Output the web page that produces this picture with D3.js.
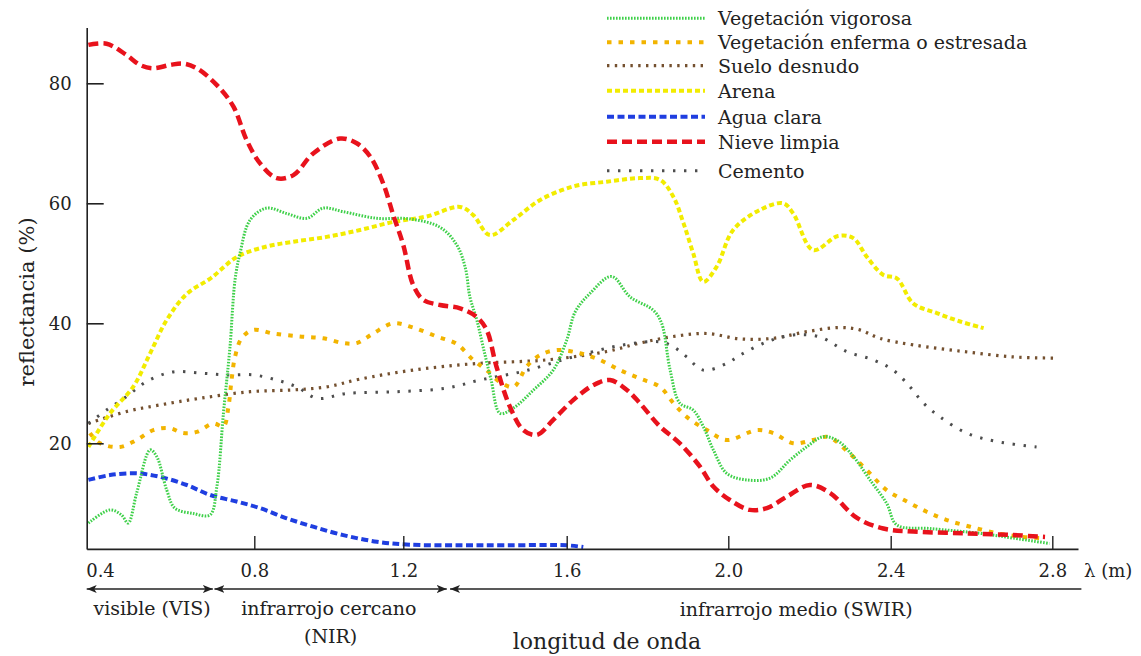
<!DOCTYPE html>
<html><head><meta charset="utf-8">
<script src="https://cdn.jsdelivr.net/npm/d3@7"></script>
<style>
html,body{margin:0;padding:0;background:#fff;}
svg{display:block;font-family:"DejaVu Serif",serif;}
</style></head>
<body><svg id="chart" width="1141" height="656"></svg>
<script>
// ---- data (wavelength in µm, reflectance in %) ----
const seriesNames = ["Vegetación vigorosa","Vegetación enferma o estresada","Suelo desnudo","Arena","Agua clara","Nieve limpia","Cemento"];
const xTicks = [0.4,0.8,1.2,1.6,2.0,2.4,2.8];
const yTicks = [20,40,60,80];

const vegVigorosa = [[0.370,6.7],[0.426,8.9],[0.456,8.05],[0.473,6.7],[0.495,11.7],[0.530,18.9],[0.547,17.8],[0.573,12.2],[0.594,9.2],[0.642,8.3],[0.685,8.05],[0.703,12.8],[0.720,25],[0.737,36.1],[0.750,47.2],[0.763,51.7],[0.789,57.2],[0.833,59.2],[0.887,58.3],[0.941,57.5],[0.985,59.2],[1.039,58.6],[1.129,57.5],[1.216,57.4],[1.290,56],[1.331,53.05],[1.352,49.2],[1.363,44.4],[1.380,40.55],[1.396,35.9],[1.415,30.55],[1.437,25],[1.470,25.9],[1.519,28.9],[1.567,32.2],[1.600,37.2],[1.621,41.9],[1.658,45],[1.711,47.8],[1.757,44.4],[1.814,42.2],[1.835,40],[1.856,32.2],[1.880,26.7],[1.913,25.55],[1.938,22.8],[1.963,18.9],[1.996,15],[2.045,13.9],[2.103,14.2],[2.152,17.2],[2.193,19.4],[2.234,21.1],[2.270,20.4],[2.308,17.8],[2.349,13.9],[2.390,10],[2.415,6.4],[2.497,5.8],[2.621,5],[2.703,4.2],[2.793,3.3]];

const vegEnferma = [[0.374,21.7],[0.400,20],[0.452,19.4],[0.495,20.55],[0.538,22.2],[0.581,22.5],[0.616,21.7],[0.651,21.9],[0.694,23.3],[0.720,22.8],[0.733,26.1],[0.741,30.55],[0.750,34.4],[0.767,37.5],[0.797,38.9],[0.851,38.3],[0.922,37.8],[0.985,37.5],[1.039,36.7],[1.075,36.7],[1.119,38.3],[1.173,40],[1.224,39.3],[1.282,37.8],[1.331,36.55],[1.371,33.9],[1.404,32.2],[1.437,30.2],[1.470,29.4],[1.502,32.8],[1.535,34.7],[1.576,35.55],[1.633,35],[1.682,33.9],[1.732,32.2],[1.781,30.8],[1.831,29.4],[1.864,26.7],[1.897,24.4],[1.947,22.2],[1.996,20.55],[2.070,22.2],[2.111,21.7],[2.160,20],[2.209,20.55],[2.246,21.05],[2.295,18.55],[2.341,15.55],[2.390,12.2],[2.440,10.3],[2.489,8.6],[2.539,7.2],[2.597,6.1],[2.663,5],[2.728,4.4],[2.778,4.2]];

const sueloDesnudo = [[0.370,23.3],[0.469,25.3],[0.556,26.4],[0.659,27.5],[0.789,28.6],[0.905,28.9],[0.994,29.4],[1.084,30.7],[1.224,32.2],[1.380,33.3],[1.551,33.9],[1.699,35.3],[1.781,36.7],[1.864,37.8],[1.947,38.3],[2.029,37.4],[2.111,37.5],[2.193,38.6],[2.275,39.3],[2.324,38.9],[2.373,37.5],[2.456,36.4],[2.580,35.3],[2.703,34.4],[2.802,34.2]];

const arena = [[0.370,19.4],[0.426,25],[0.486,29.4],[0.530,35],[0.573,40.55],[0.625,44.9],[0.688,47.55],[0.756,51.1],[0.833,52.8],[0.905,53.6],[0.994,54.4],[1.084,55.55],[1.173,56.9],[1.257,57.8],[1.339,59.4],[1.371,58.05],[1.412,54.7],[1.469,57.2],[1.535,60.55],[1.616,62.8],[1.699,63.6],[1.781,64.2],[1.831,63.9],[1.864,61.1],[1.889,56.7],[1.913,51.7],[1.938,46.9],[1.971,49.4],[2.012,55.55],[2.078,58.9],[2.135,60],[2.160,58.3],[2.209,52.2],[2.270,54.55],[2.308,54.2],[2.341,51.1],[2.382,48.05],[2.415,47.5],[2.456,43.3],[2.514,41.7],[2.572,40.3],[2.630,39.2]];

const aguaClara = [[0.370,13.9],[0.426,14.7],[0.495,15],[0.556,14.4],[0.625,13.05],[0.685,11.4],[0.754,10.3],[0.815,9.2],[0.887,7.5],[0.958,6.1],[1.039,4.7],[1.129,3.6],[1.216,3.1],[1.339,3.0],[1.453,3.0],[1.600,3.0],[1.641,2.7]];

const nieveLimpia = [[0.370,86.4],[0.417,86.6],[0.469,84.7],[0.504,83.05],[0.538,82.5],[0.581,83.05],[0.616,83.3],[0.651,82.5],[0.703,79.7],[0.746,76.1],[0.780,70.55],[0.815,66.7],[0.860,64.2],[0.905,64.7],[0.958,68.3],[1.030,70.8],[1.075,70],[1.111,67.8],[1.146,63.3],[1.173,58.05],[1.200,53.05],[1.224,46.4],[1.249,43.9],[1.290,43.05],[1.339,42.5],[1.379,41.1],[1.404,38.9],[1.428,32.8],[1.461,26.1],[1.494,22.2],[1.527,21.4],[1.567,23.9],[1.616,27.2],[1.666,29.7],[1.707,30.55],[1.749,28.9],[1.781,26.7],[1.831,22.8],[1.880,20],[1.930,16.1],[1.963,12.8],[2.004,10.55],[2.053,8.9],[2.095,9.2],[2.144,11.1],[2.201,13.05],[2.251,11.7],[2.316,7.6],[2.382,5.8],[2.456,5.3],[2.580,5.0],[2.703,4.7],[2.782,4.4]];

const cemento = [[0.370,23.3],[0.417,25.55],[0.469,27.8],[0.521,30.3],[0.590,31.9],[0.659,31.7],[0.728,31.4],[0.797,31.4],[0.860,30.55],[0.914,29.4],[0.968,27.5],[1.048,28.3],[1.182,28.6],[1.306,29.2],[1.388,30.55],[1.494,32],[1.616,34.4],[1.740,36.4],[1.831,36.9],[1.864,36.1],[1.897,34.4],[1.938,32.2],[1.996,33.3],[2.029,34.7],[2.095,36.9],[2.160,38.05],[2.226,37.7],[2.291,35.3],[2.357,33.9],[2.406,32.2],[2.448,29.4],[2.481,26.7],[2.522,24.4],[2.588,21.7],[2.662,20.3],[2.761,19.4]];

const seriesData = [vegVigorosa, vegEnferma, sueloDesnudo, arena, aguaClara, nieveLimpia, cemento];
const colors = ["#3fd04a","#f2b400","#74502f","#f2ec00","#1f3ee0","#e8121c","#4d4d4d"];
const dashes = ["1.6 1.4","4.5 7","2.4 5.4","5 3","7 3.5","10 5","2.4 8.6"];
const widths = [3,4,3.2,4,4,4.5,3];

// wavelength regions
const regionLabels = ["visible (VIS)","infrarrojo cercano","(NIR)","infrarrojo medio (SWIR)"];

// ---- layout ----
const svg = d3.select("#chart");
const ink = "#222";

const x = d3.scaleLinear()
  .domain([0.3655,0.4,0.8,1.2,1.6,2.0,2.4,2.8,2.8636])
  .range([86.7,100,254.3,403.3,566.7,728.3,890.7,1052.3,1078]);
const y = d3.scaleLinear().domain([2.4,89.3]).range([548.9,27.5]);

// series lines
const line = d3.line().x(d=>x(d[0])).y(d=>y(d[1])).curve(d3.curveCatmullRom.alpha(0.5));
const order = [4,2,6,1,3,0,5];
order.forEach(i=>{
  svg.append("path").datum(seriesData[i])
    .attr("d",line).attr("fill","none")
    .attr("stroke",colors[i]).attr("stroke-width",widths[i])
    .attr("stroke-dasharray",dashes[i]);
});

// x axis
const gx = svg.append("g").attr("transform",`translate(0,${y(2.4)})`)
  .call(d3.axisBottom(x).tickValues(xTicks).tickFormat(d3.format(".1f"))
    .tickSizeInner(-13).tickSizeOuter(0).tickPadding(15));
gx.select(".domain").attr("stroke",ink).attr("stroke-width",1.6);
gx.selectAll(".tick line").attr("stroke",ink).attr("stroke-width",1.4)
  .filter(d=>d===0.4).remove();
gx.selectAll(".tick text").attr("font-size",18).attr("fill",ink).attr("font-family","DejaVu Serif");

// y axis
const gy = svg.append("g").attr("transform",`translate(${x(0.3655)},0)`)
  .call(d3.axisLeft(y).tickValues(yTicks).tickSizeInner(-17).tickSizeOuter(0).tickPadding(15));
gy.select(".domain").attr("stroke",ink).attr("stroke-width",1.6);
gy.selectAll(".tick line").attr("stroke",ink).attr("stroke-width",1.6);
gy.selectAll(".tick text").attr("font-size",18).attr("fill",ink).attr("font-family","DejaVu Serif");

// unit label
svg.append("text").attr("x",x(2.8636)+6).attr("y",577).attr("font-size",18).attr("fill",ink).text("λ (m)");

// axis titles
svg.append("text").attr("transform","translate(34,302) rotate(-90)").attr("text-anchor","middle")
  .attr("font-size",21).attr("fill",ink).text("reflectancia (%)");
svg.append("text").attr("x",607).attr("y",649).attr("text-anchor","middle")
  .attr("font-size",22).attr("fill",ink).text("longitud de onda");

// region arrows
const defs = svg.append("defs");
defs.append("marker").attr("id","ah").attr("viewBox","0 0 10 10").attr("refX",10).attr("refY",5)
  .attr("markerWidth",10).attr("markerHeight",10).attr("markerUnits","userSpaceOnUse").attr("orient","auto-start-reverse")
  .append("path").attr("d","M0,1 L10,5 L0,9 L2.5,5 Z").attr("fill",ink);
const arrowY = 589;
const regions = [[0.3655,0.6925,true],[0.6967,1.3064,true],[1.3145,2.8720,false]];
regions.forEach(r=>{
  const p = svg.append("line").attr("x1",x(r[0])).attr("x2",x(r[1])).attr("y1",arrowY).attr("y2",arrowY)
    .attr("stroke",ink).attr("stroke-width",1.6).attr("marker-start","url(#ah)");
  if(r[2]) p.attr("marker-end","url(#ah)");
});
const regionPos = [[0.535,615],[1.0,615],[1.005,643],[2.167,616]];
regionLabels.forEach((t,i)=>{
  svg.append("text").attr("x",x(regionPos[i][0])).attr("y",regionPos[i][1]).attr("text-anchor","middle")
    .attr("font-size",19).attr("fill",ink).text(t);
});

// legend
const legY = [18.3,42.3,65.7,90.7,116.7,141.7,170.7];
const lg = svg.append("g");
seriesNames.forEach((n,i)=>{
  lg.append("line").attr("x1",607).attr("x2",705).attr("y1",legY[i]).attr("y2",legY[i])
    .attr("stroke",colors[i]).attr("stroke-width",widths[i]).attr("stroke-dasharray",dashes[i]);
  lg.append("text").attr("x",718).attr("y",legY[i]+7).attr("font-size",19).attr("fill",ink).text(n);
});
</script></body></html>
